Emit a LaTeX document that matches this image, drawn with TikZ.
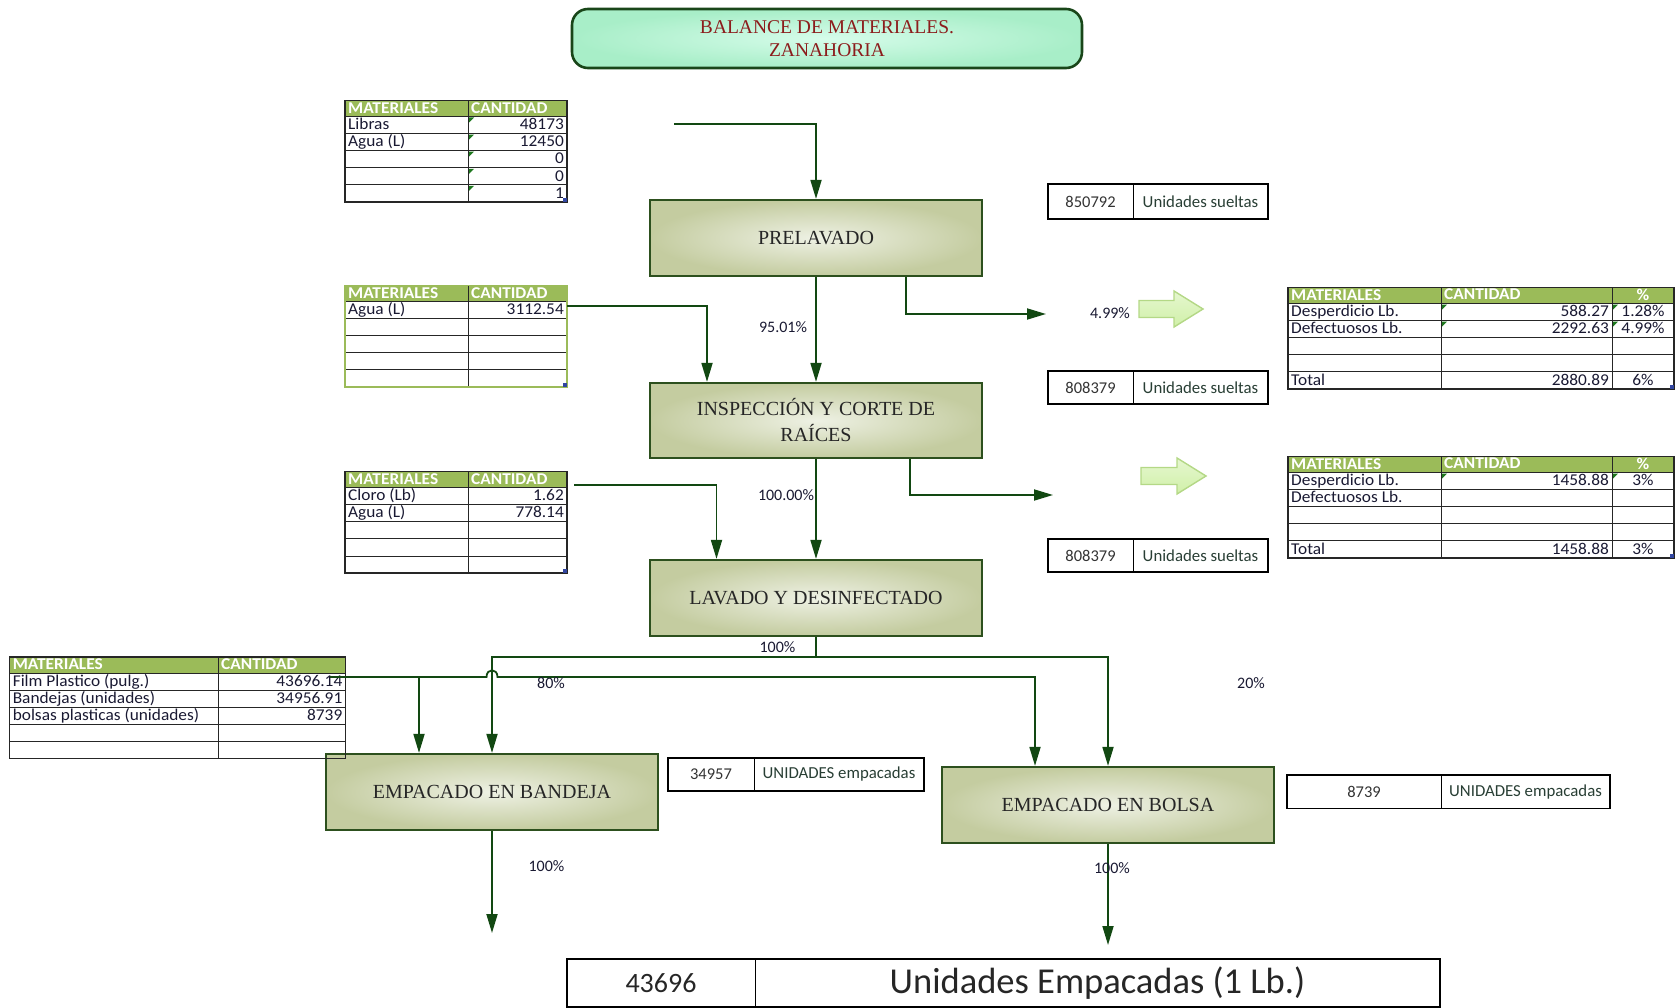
\documentclass[tikz,border=0pt]{standalone}
\usepackage{fontspec}
\setmainfont{Liberation Serif}
\newfontfamily\calib{Carlito}
\newfontfamily\calibw[FakeStretch=1.05]{Carlito}
\usetikzlibrary{arrows.meta,calc}

\definecolor{flowgreen}{RGB}{18,72,18}
\definecolor{procedge}{RGB}{45,80,30}
\definecolor{procout}{RGB}{196,204,160}
\definecolor{procin}{RGB}{238,241,228}
\definecolor{titlein}{RGB}{214,252,234}
\definecolor{titleout}{RGB}{168,238,200}
\definecolor{titleedge}{RGB}{25,70,25}
\definecolor{titletext}{RGB}{140,28,28}
\definecolor{hdrgreen}{RGB}{155,187,89}
\definecolor{cellink}{RGB}{25,25,50}
\definecolor{unittext}{RGB}{40,62,52}
\definecolor{blockfill}{RGB}{208,240,168}
\definecolor{blockedge}{RGB}{180,216,134}
\definecolor{markgreen}{RGB}{30,120,30}
\definecolor{handleblue}{RGB}{50,70,160}

% table frame: left, right, top, inner column separators
\newcommand\gtable[5][black!85]{%
  \fill[hdrgreen] (#2,#4) rectangle (#3,#4+16);
  \foreach \k in {0,...,4}
    \draw[gridline] (#2,{#4+16+17.1*\k}) -- (#3,{#4+16+17.1*\k});
  \foreach \c in {#5}
    \draw[gridline] (\c,#4) -- (\c,#4+101.5);
  \draw[gridframe,draw=#1] (#2,#4) rectangle (#3,#4+101.5);
}
% header cell text: name, x, top, text
\newcommand\hdl[4]{\node[hdrtext,anchor=west] (#1) at ({#2+3},{#3+8.5}) {#4};}
% body cell text: name, x, top, row, text
\newcommand\txl[5]{\node[celltext,anchor=west] (#1) at ({#2+3},{#3+16+17.1*#4-7.6}) {#5};}
\newcommand\txr[5]{\node[celltext,anchor=east] (#1) at ({#2-3},{#3+16+17.1*#4-7.6}) {#5};}
\newcommand\txc[5]{\node[celltext] (#1) at ({#2},{#3+16+17.1*#4-7.6}) {#5};}
% small green corner mark: x, top, row
\newcommand\cmark[3]{\fill[markgreen] (#1+1,{#2+16+17.1*(#3-1)+1}) -- ++(5,0) -- ++(-5,5) -- cycle;}
% selection handle in the lower right corner
\newcommand\handle[2]{\fill[handleblue] (#1-4,#2-4) rectangle (#1,#2);}
% two-cell quantity box: name, x0, split, x1, y0, y1, number, unit
\newcommand\unitbox[8]{%
  \draw[unitframe] (#2,#5) rectangle (#4,#6);
  \draw[unitsplit] (#3,#5) -- (#3,#6);
  \node[unitnum] (#1n) at ({(#2+#3)/2},{(#5+#6)/2}) {#7};
  \node[unitlbl] (#1t) at ({(#3+#4)/2},{(#5+#6)/2}) {#8};
}
% light green block arrow: left, right, top, bottom
\newcommand\blockarrow[4]{%
  \filldraw[blockshape] (#1,{#3+9.5}) -- ({#2-29},{#3+9.5}) -- ({#2-29},#3)
    -- (#2,{(#3+#4)/2}) -- ({#2-29},#4) -- ({#2-29},{#4-9.5}) -- (#1,{#4-9.5}) -- cycle;
}

\begin{document}
\begin{tikzpicture}[x=1pt,y=-1pt,
  proc/.style={draw=procedge, line width=2.2pt, inner color=procin, outer color=procout,
    minimum width=332pt, minimum height=76pt, align=center, text=black!85,
    font=\fontsize{20}{24}\selectfont},
  titlebox/.style={draw=titleedge, line width=2.6pt, rounded corners=16pt,
    inner color=titlein, outer color=titleout, minimum width=510pt, minimum height=59pt,
    align=center, text=titletext, font=\fontsize{19.5}{23}\selectfont},
  flow/.style={draw=flowgreen, line width=1.8pt, -{Triangle[length=19pt,width=11pt]}},
  flowline/.style={draw=flowgreen, line width=1.8pt},
  pct/.style={font=\calib\fontsize{16}{16}\selectfont, text=cellink, inner sep=0},
  gridline/.style={draw=black!85, line width=1pt},
  gridframe/.style={line width=1.3pt},
  hdrtext/.style={font=\calibw\bfseries\fontsize{16.5}{16.5}\selectfont, text=white, inner sep=0,
    text height=10.5pt, text depth=2pt},
  celltext/.style={font=\calibw\fontsize{16.5}{16.5}\selectfont, text=cellink, inner sep=0,
    text height=10.5pt, text depth=3pt},
  unitframe/.style={draw=black, line width=1.8pt},
  unitsplit/.style={draw=black, line width=1pt},
  unitnum/.style={font=\calib\fontsize{16.5}{17}\selectfont, text=black!80, inner sep=0},
  unitlbl/.style={font=\calib\fontsize{16.8}{17}\selectfont, text=unittext, inner sep=0},
  blockshape/.style={draw=blockedge, line width=1.4pt, top color=blockfill!55!white,
    bottom color=blockfill},
]
\useasboundingbox (0,0) rectangle (1677,1008);

% ---------- title ----------
\node[titlebox] (title) at (827,38.5) {BALANCE DE MATERIALES.\\ZANAHORIA};

% ---------- process steps ----------
\node[proc] (prelavado)  at (816,238)   {PRELAVADO};
\node[proc, minimum height=75pt, font=\fontsize{20}{26}\selectfont] (inspeccion) at (816,420.5)
  {INSPECCIÓN Y CORTE DE\\RAÍCES};
\node[proc] (lavado)     at (816,598)   {LAVADO Y DESINFECTADO};
\node[proc] (bandeja)    at (492,792)   {EMPACADO EN BANDEJA};
\node[proc] (bolsa)      at (1108,805)  {EMPACADO EN BOLSA};

% ---------- input tables ----------
\gtable{345}{567}{100.5}{468}
\hdl{t1h1}{345}{100.5}{MATERIALES}
\hdl{t1h2}{468}{100.5}{CANTIDAD}
\txl{t1a}{345}{100.5}{1}{Libras}
\txr{t1b}{567}{100.5}{1}{48173}
\txl{t1c}{345}{100.5}{2}{Agua (L)}
\txr{t1d}{567}{100.5}{2}{12450}
\txr{t1e}{567}{100.5}{3}{0}
\txr{t1f}{567}{100.5}{4}{0}
\txr{t1g}{567}{100.5}{5}{1}
\foreach \r in {1,...,5} {\cmark{468}{100.5}{\r}}
\handle{567}{202}

\gtable[hdrgreen]{345}{567}{285.5}{468}
\hdl{t2h1}{345}{285.5}{MATERIALES}
\hdl{t2h2}{468}{285.5}{CANTIDAD}
\txl{t2a}{345}{285.5}{1}{Agua (L)}
\txr{t2b}{567}{285.5}{1}{3112.54}
\handle{567}{387}

\gtable{345}{567}{471.6}{468}
\hdl{t3h1}{345}{471.6}{MATERIALES}
\hdl{t3h2}{468}{471.6}{CANTIDAD}
\txl{t3a}{345}{471.6}{1}{Cloro (Lb)}
\txr{t3b}{567}{471.6}{1}{1.62}
\txl{t3c}{345}{471.6}{2}{Agua (L)}
\txr{t3d}{567}{471.6}{2}{778.14}
\handle{567}{573}

\gtable{9.6}{345.5}{657}{218}
\hdl{t4h1}{9.6}{657}{MATERIALES}
\hdl{t4h2}{218}{657}{CANTIDAD}
\txl{t4a}{9.6}{657}{1}{Film Plastico (pulg.)}
\txr{t4b}{345.5}{657}{1}{43696.14}
\txl{t4c}{9.6}{657}{2}{Bandejas (unidades)}
\txr{t4d}{345.5}{657}{2}{34956.91}
\txl{t4e}{9.6}{657}{3}{bolsas plasticas (unidades)}
\txr{t4f}{345.5}{657}{3}{8739}

% ---------- waste tables ----------
\gtable{1288}{1674}{287.5}{1441,1612}
\hdl{r1h1}{1288}{287.5}{MATERIALES}
\node[hdrtext,anchor=west] (r1h2) at (1444,295) {CANTIDAD};
\node[hdrtext] (r1h3) at (1643,296.5) {\%};
\txl{r1a}{1288}{287.5}{1}{Desperdicio Lb.}
\txr{r1b}{1612}{287.5}{1}{588.27}
\txc{r1c}{1643}{287.5}{1}{1.28\%}
\txl{r1d}{1288}{287.5}{2}{Defectuosos Lb.}
\txr{r1e}{1612}{287.5}{2}{2292.63}
\txc{r1f}{1643}{287.5}{2}{4.99\%}
\txl{r1g}{1288}{287.5}{5}{Total}
\txr{r1h}{1612}{287.5}{5}{2880.89}
\txc{r1i}{1643}{287.5}{5}{6\%}
\cmark{1441}{287.5}{1}\cmark{1441}{287.5}{2}
\cmark{1612}{287.5}{1}\cmark{1612}{287.5}{2}
\handle{1674}{389}

\gtable{1288}{1674}{456.5}{1441,1612}
\hdl{r2h1}{1288}{456.5}{MATERIALES}
\node[hdrtext,anchor=west] (r2h2) at (1444,464) {CANTIDAD};
\node[hdrtext] (r2h3) at (1643,465.5) {\%};
\txl{r2a}{1288}{456.5}{1}{Desperdicio Lb.}
\txr{r2b}{1612}{456.5}{1}{1458.88}
\txc{r2c}{1643}{456.5}{1}{3\%}
\txl{r2d}{1288}{456.5}{2}{Defectuosos Lb.}
\txl{r2g}{1288}{456.5}{5}{Total}
\txr{r2h}{1612}{456.5}{5}{1458.88}
\txc{r2i}{1643}{456.5}{5}{3\%}
\cmark{1441}{456.5}{1}\cmark{1612}{456.5}{1}
\handle{1674}{558}

% ---------- quantity boxes ----------
\unitbox{u1}{1048}{1133}{1268}{184}{219}{850792}{Unidades sueltas}
\unitbox{u2}{1048}{1133}{1268}{371}{404}{808379}{Unidades sueltas}
\unitbox{u3}{1048}{1133}{1268}{539}{572}{808379}{Unidades sueltas}
\unitbox{u4}{668}{754}{924}{758}{791}{34957}{UNIDADES empacadas}
\unitbox{u5}{1287}{1441}{1610}{775}{808.5}{8739}{UNIDADES empacadas}
\draw[unitframe] (567,959) rectangle (1440,1007);
\draw[unitsplit] (755,959) -- (755,1007);
\node[inner sep=0, font=\calib\fontsize{28}{28}\selectfont, text=black!85] (totn) at (661,983) {43696};
\node[inner sep=0, font=\calib\fontsize{36.5}{36.5}\selectfont, text=black!85] (tott) at (1097.5,983)
  {Unidades Empacadas (1 Lb.)};

% ---------- block arrows ----------
\blockarrow{1139}{1203}{291}{327}
\blockarrow{1141}{1206}{458}{494}

% ---------- connectors ----------
\coordinate (feed) at (674,124);
\draw[flow] (feed) -| (prelavado.north);
\draw[flow] (prelavado.south) -- (inspeccion.north);
\node[pct] (p1) at (783,327) {95.01\%};

\coordinate (waste1) at (1046,314);
\draw[flow] ([xshift=90pt]prelavado.south) |- (waste1);
\node[pct] (p2) at (1110,313) {4.99\%};

\coordinate (t2out) at (567,306);
\draw[flow] (t2out) -| ([xshift=-109pt]inspeccion.north);

\draw[flow] (inspeccion.south) -- (lavado.north);
\node[pct] (p3) at (786,495) {100.00\%};

\coordinate (waste2) at (1053,495);
\draw[flow] ([xshift=94pt]inspeccion.south) |- (waste2);

\coordinate (t3out) at (574,485);
\draw[flow] (t3out) -| ([xshift=-99.5pt]lavado.north);

\coordinate (split) at ($(lavado.south)+(0,19.6)$);
\draw[flowline] (lavado.south) -- (split);
\draw[flow] (split) -| (bandeja.north);
\draw[flow] (split) -| (bolsa.north);
\node[pct] (p4) at (777.5,647) {100\%};

\coordinate (t4out) at (330,677);
\coordinate (hopL) at (486.5,677);
\coordinate (hopR) at (497.5,677);
\coordinate (branch) at (419,677);
\draw[flow] (t4out) -- (hopL) .. controls +(0,-9) and +(0,-9) .. (hopR)
  -| ([xshift=-73pt]bolsa.north);
\draw[flow] (branch) -- ([xshift=-73pt]bandeja.north);
\node[pct] (p5) at (551,683) {80\%};
\node[pct] (p6) at (1251,683) {20\%};

\coordinate (end1) at (492,933);
\draw[flow] (bandeja.south) -- (end1);
\node[pct] (p7) at (546.5,866) {100\%};

\coordinate (end2) at (1108,945);
\draw[flow] (bolsa.south) -- (end2);
\node[pct] (p8) at (1112,868) {100\%};
\end{tikzpicture}
\end{document}
